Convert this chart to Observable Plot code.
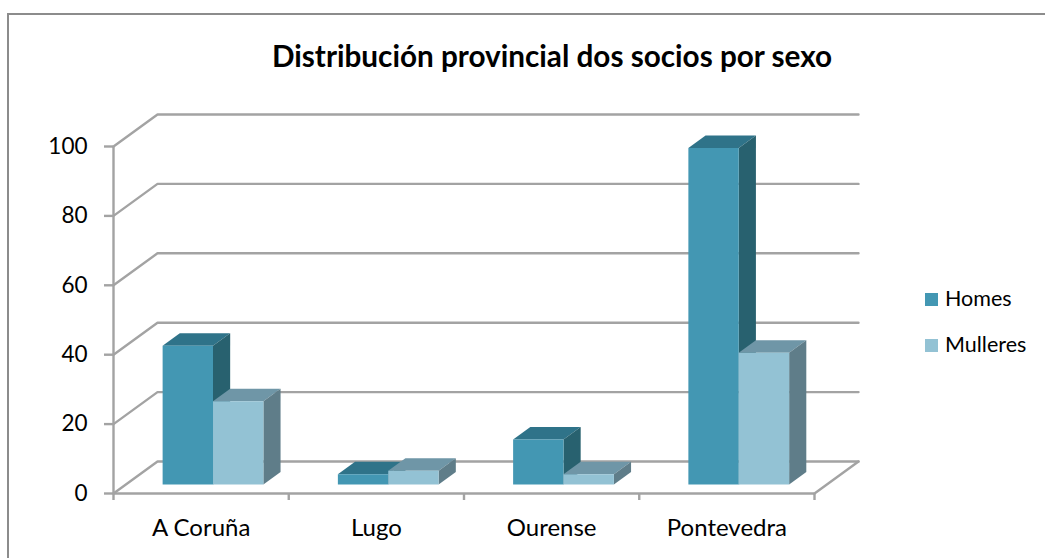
<!DOCTYPE html>
<html>
<head>
<meta charset="utf-8">
<script src="https://cdn.jsdelivr.net/npm/d3@7"></script>
<script src="https://cdn.jsdelivr.net/npm/@observablehq/plot@0.6"></script>
<style>
  html, body { margin: 0; padding: 0; background: #fff; }
  body { width: 1045px; height: 558px; position: relative; overflow: hidden; font-family: Lato, sans-serif; color: #000; }
  #frame { position: absolute; left: 7px; top: 13px; right: -10px; bottom: -10px; border: 2px solid #8c8c8c; box-sizing: border-box; }
  #title { position: absolute; left: 0; width: 1104px; top: 38px; text-align: center; font-size: 29.7px; font-weight: 700; white-space: nowrap; }
  #chart { position: absolute; left: 0; top: 0; }
  .key { position: absolute; left: 925px; font-size: 21.5px; line-height: 26px; white-space: nowrap; }
  .key i { display: inline-block; width: 13px; height: 13px; margin-right: 7px; vertical-align: 0px; }
</style>
</head>
<body>
<div id="frame"></div>
<div id="chart"></div>
<div id="title">Distribución provincial dos socios por sexo</div>
<div class="key" style="top:285px"><i style="background:#4397b3"></i>Homes</div>
<div class="key" style="top:331px"><i style="background:#93c2d4"></i>Mulleres</div>
<script>
const categories = ["A Coruña", "Lugo", "Ourense", "Pontevedra"];
const homes = [40, 3, 13, 97];
const mulleres = [24, 4, 3, 38];
const yTicks = [0, 20, 40, 60, 80, 100];

const W = 1045, H = 558;
const left = 113, right = 814, top0 = 146, bottom0 = 493;
const pxX = (right - left) / categories.length;   // pixels per category
const pxY = (bottom0 - top0) / 100;               // pixels per unit

// Oblique projection: depth 0 is the front of the floor, depth 1 the back wall.
const wallX = 44 / pxX, wallY = 32 / pxY;
const at = (x, y, d) => ({x: x + d * wallX, y: y + d * wallY});

const gridRows = yTicks.flatMap((v) => [
  {...at(0, v, 0), v}, {...at(0, v, 1), v}, {...at(categories.length, v, 1), v}
]);
const floorEdge = [at(categories.length, 0, 0), at(categories.length, 0, 1)];

const series = [
  {name: "Homes", values: homes, slot: 0, front: "#4397b3", topc: "#2f7389", side: "#28616f"},
  {name: "Mulleres", values: mulleres, slot: 1, front: "#93c2d4", topc: "#6f96a7", side: "#5f7d89"}
];
const d0 = 0.28, d1 = 0.67, barStart = 0.21, barW = 0.2875;
const bars = categories.flatMap((c, i) => series.map((s) => {
  const a = i + barStart + s.slot * barW, b = a + barW, v = s.values[i];
  return {c, i, a, b, v, s};
}));
const poly = (corners, fill, id) => corners.map((p) => ({...p, fill, id}));
const faces = bars.flatMap((r, k) => [
  ...poly([at(r.a, r.v, d0), at(r.b, r.v, d0), at(r.b, r.v, d1), at(r.a, r.v, d1)], r.s.topc, k + "t"),
  ...poly([at(r.b, 0, d0), at(r.b, r.v, d0), at(r.b, r.v, d1), at(r.b, 0, d1)], r.s.side, k + "s"),
  ...poly([at(r.a, 0, d0), at(r.b, 0, d0), at(r.b, r.v, d0), at(r.a, r.v, d0)], r.s.front, k + "f")
]);

const lineColor = "#a3a3a3";
const lw = 2.4;
const plot = Plot.plot({
  width: W, height: H,
  marginLeft: left, marginRight: W - right, marginTop: top0, marginBottom: H - bottom0,
  style: {background: "transparent", fontFamily: "Lato, sans-serif", color: "#000", overflow: "visible"},
  x: {domain: [0, categories.length], axis: null},
  y: {domain: [0, 100], axis: null},
  marks: [
    Plot.line(gridRows, {x: "x", y: "y", z: "v", stroke: lineColor, strokeWidth: lw}),
    Plot.line(floorEdge, {x: "x", y: "y", stroke: lineColor, strokeWidth: lw}),
    Plot.ruleX([0], {y1: 0, y2: 100, stroke: lineColor, strokeWidth: lw}),
    Plot.ruleY([0], {x1: 0, x2: categories.length, stroke: lineColor, strokeWidth: lw}),
    Plot.axisY({ticks: yTicks, tickSize: 9, tickPadding: 17, fontSize: 22.5, stroke: lineColor, strokeWidth: lw, label: null}),
    Plot.axisX({ticks: d3.range(categories.length + 1), tickSize: 7, tickFormat: () => "", stroke: lineColor, strokeWidth: lw, label: null}),
    Plot.text(categories, {x: (d, i) => i + 0.5, y: 0, text: (d) => d, dy: 35, fontSize: 24, fill: "#000"}),
    Plot.line(faces, {x: "x", y: "y", z: "id", fill: "fill", stroke: null, curve: "linear-closed"})
  ]
});
document.getElementById("chart").append(plot);
</script>
</body>
</html>
